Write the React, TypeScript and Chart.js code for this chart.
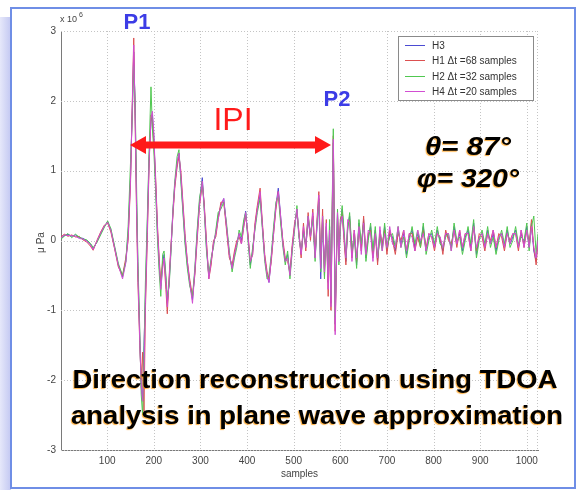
import React, { useEffect, useRef } from "react";
import { Chart, registerables } from "chart.js";
Chart.register(...registerables);

const samples = [
  1, 8, 16, 24, 32, 40, 48, 56, 64, 70,
  78, 86, 94, 101, 108, 116, 124, 133, 140, 145,
  150, 154, 157, 160, 163, 166, 170, 173, 176, 179,
  182, 186, 190, 194, 197, 200, 204, 208, 212, 215,
  219, 222, 226, 229, 233, 237, 241, 245, 250, 254,
  258, 262, 267, 272, 277, 283, 288, 293, 298, 304,
  308, 313, 318, 323, 328, 333, 338, 344, 350, 356,
  362, 368, 373, 378, 383, 388, 393, 397, 402, 407,
  412, 417, 422, 428, 433, 438, 443, 447, 452, 457,
  462, 467, 472, 477, 482, 487, 492, 497, 502, 507,
  511, 516, 521, 526, 531, 536, 541, 546, 550, 554,
  558, 562, 566, 570, 574, 577, 580, 583, 585, 587,
  589, 591, 594, 597, 600, 604, 608, 612, 616, 620,
  625, 630, 635, 640, 645, 650, 655, 660, 665, 670,
  675, 680, 685, 690, 695, 700, 706, 712, 718, 724,
  730, 736, 742, 748, 754, 760, 766, 772, 778, 784,
  790, 796, 802, 808, 814, 820, 826, 832, 838, 844,
  850, 856, 862, 868, 874, 880, 886, 892, 898, 904,
  910, 916, 922, 928, 934, 940, 946, 952, 958, 964,
  970, 976, 982, 988, 994, 1000, 1005, 1010, 1015, 1020,
  1024,
];

const h3 = [
  0.03, 0.07, 0.09, 0.06, 0.08, 0.04, 0.03, 0.0, -0.05, -0.12,
  -0.02, 0.1, 0.2, 0.27, 0.15, -0.1, -0.35, -0.52, -0.3, 0.1,
  0.9, 1.9, 2.7, 1.9, 0.6, -0.4, -1.4, -2.1, -2.3, -1.5,
  -0.8, 0.2, 1.2, 1.7, 1.8, 1.5, 0.8, 0.1, -0.4, -0.65,
  -0.35, -0.2, -0.55, -0.9, -0.6, -0.1, 0.4, 0.8, 1.1, 1.25,
  0.9, 0.5, 0.0, -0.35, -0.6, -0.85, -0.45, 0.1, 0.55, 0.9,
  0.5, -0.1, -0.5, -0.3, -0.05, 0.1, 0.35, 0.5, 0.6, 0.2,
  -0.2, -0.4, -0.2, -0.05, 0.1, 0.0, 0.25, 0.42, 0.05, -0.35,
  -0.15, 0.2, 0.45, 0.65, 0.2, -0.25, -0.5, -0.6, -0.25, 0.15,
  0.5, 0.75, 0.35, -0.05, -0.3, -0.2, -0.5, -0.1, 0.2, 0.45,
  0.1, -0.2, 0.15, -0.1, 0.3, 0.05, 0.35, -0.25, 0.2, 0.6,
  -0.55, 0.3, -0.4, 0.2, -0.6, 0.2, -0.9, 0.5, 1.4, 0.2,
  -1.2, -0.5, 0.4, -0.3, 0.2, 0.45, 0.1, -0.3, 0.2, 0.35,
  -0.2, 0.1, -0.35, 0.25, -0.1, 0.3, -0.25, 0.05, 0.2, -0.2,
  0.15, -0.3, 0.1, -0.1, 0.2, -0.15, 0.1, 0.05, -0.15, 0.15,
  -0.05, 0.1, -0.2, 0.05, 0.15, -0.1, 0.1, -0.05, 0.2, -0.15,
  0.05, 0.1, -0.1, 0.15, 0.0, -0.15, 0.1, 0.05, -0.1, 0.2,
  -0.05, 0.1, -0.15, 0.05, 0.15, -0.1, 0.25, -0.2, 0.05, 0.1,
  -0.1, 0.15, -0.05, 0.1, -0.15, 0.05, 0.1, -0.1, 0.15, -0.05,
  0.05, 0.15, -0.1, 0.1, -0.05, 0.2, -0.1, 0.25, -0.15, -0.3,
  0.05,
];

const h1 = [
  0.05, 0.09, 0.06, 0.08, 0.05, 0.06, 0.01, -0.02, -0.08, -0.14,
  0.0, 0.12, 0.22, 0.25, 0.12, -0.12, -0.38, -0.5, -0.25, 0.0,
  0.8, 2.0, 2.9, 1.7, 0.4, -0.6, -1.5, -2.0, -1.6, -2.45,
  -1.0, 0.0, 1.1, 1.8, 1.7, 1.4, 0.9, 0.2, -0.3, -0.6,
  -0.3, -0.3, -0.7, -1.05, -0.5, -0.05, 0.35, 0.75, 1.05, 1.2,
  1.0, 0.6, 0.1, -0.3, -0.55, -0.8, -0.5, 0.0, 0.5, 0.8,
  0.55, 0.0, -0.55, -0.35, 0.0, 0.05, 0.3, 0.55, 0.55, 0.15,
  -0.25, -0.35, -0.15, 0.0, 0.05, -0.05, 0.2, 0.35, 0.1, -0.3,
  -0.2, 0.25, 0.5, 0.75, 0.25, -0.2, -0.45, -0.55, -0.3, 0.1,
  0.45, 0.7, 0.3, 0.0, -0.25, -0.3, -0.45, -0.05, 0.25, 0.4,
  0.15, -0.25, 0.25, -0.15, 0.4, 0.0, 0.45, -0.2, 0.3, 0.7,
  -0.3, 0.45, -0.5, 0.3, -0.8, 0.1, -1.0, 0.6, 1.5, 0.3,
  -1.3, -0.6, 0.35, -0.25, 0.3, 0.4, 0.0, -0.35, 0.25, 0.3,
  -0.25, 0.15, -0.3, 0.2, -0.15, 0.35, -0.2, 0.1, 0.15, -0.25,
  0.1, -0.35, 0.15, -0.05, 0.15, -0.2, 0.15, 0.0, -0.2, 0.1,
  0.0, 0.15, -0.15, 0.1, 0.1, -0.15, 0.05, -0.1, 0.15, -0.1,
  0.1, 0.05, -0.15, 0.1, 0.05, -0.2, 0.15, 0.0, -0.05, 0.15,
  -0.1, 0.15, -0.1, 0.1, 0.1, -0.15, 0.2, -0.15, 0.1, 0.05,
  -0.15, 0.1, 0.0, 0.15, -0.1, 0.1, 0.05, -0.15, 0.1, 0.0,
  0.1, 0.1, -0.15, 0.15, -0.1, 0.15, -0.05, 0.3, -0.1, -0.35,
  0.0,
];

const h2 = [
  0.02, 0.06, 0.1, 0.04, 0.09, 0.05, 0.02, 0.01, -0.04, -0.1,
  -0.03, 0.08, 0.19, 0.28, 0.17, -0.08, -0.33, -0.5, -0.3, 0.2,
  1.1, 1.8, 2.5, 2.0, 0.8, -0.3, -1.3, -2.2, -2.5, -1.6,
  -0.6, 0.3, 1.3, 2.2, 1.6, 1.3, 0.7, 0.0, -0.5, -0.8,
  -0.2, -0.15, -0.5, -0.8, -0.65, -0.15, 0.45, 0.85, 1.2, 1.3,
  0.85, 0.45, -0.05, -0.4, -0.65, -0.8, -0.4, 0.15, 0.6, 0.85,
  0.45, -0.15, -0.5, -0.25, -0.1, 0.15, 0.4, 0.45, 0.55, 0.25,
  -0.15, -0.45, -0.25, -0.1, 0.15, 0.05, 0.3, 0.4, 0.0, -0.4,
  -0.1, 0.15, 0.4, 0.6, 0.15, -0.3, -0.55, -0.5, -0.2, 0.2,
  0.55, 0.65, 0.25, -0.1, -0.35, -0.15, -0.55, -0.15, 0.15, 0.5,
  0.05, -0.15, 0.1, -0.05, 0.35, 0.1, 0.3, -0.3, 0.25, 0.55,
  -0.45, 0.35, -0.55, 0.15, -0.5, 0.3, -0.8, 0.7, 1.6, 0.1,
  -1.1, -0.4, 0.45, -0.35, 0.15, 0.5, 0.15, -0.25, 0.15, 0.4,
  -0.15, 0.05, -0.4, 0.3, -0.05, 0.25, -0.3, 0.0, 0.25, -0.15,
  0.2, -0.25, 0.05, -0.15, 0.25, -0.1, 0.05, 0.1, -0.1, 0.2,
  -0.1, 0.05, -0.25, 0.0, 0.2, -0.05, 0.15, -0.1, 0.25, -0.2,
  0.0, 0.15, -0.05, 0.2, -0.05, -0.1, 0.05, 0.1, -0.15, 0.25,
  0.0, 0.05, -0.2, 0.0, 0.2, -0.05, 0.3, -0.25, 0.0, 0.15,
  -0.05, 0.2, -0.1, 0.05, -0.2, 0.0, 0.15, -0.05, 0.2, -0.1,
  0.0, 0.2, -0.05, 0.05, 0.0, 0.25, -0.15, 0.2, 0.35, -0.2,
  0.1,
];

const h4 = [
  0.04, 0.08, 0.07, 0.07, 0.06, 0.03, 0.02, -0.01, -0.06, -0.13,
  -0.01, 0.11, 0.21, 0.26, 0.14, -0.11, -0.36, -0.55, -0.32, 0.05,
  0.85, 1.95, 2.8, 1.8, 0.5, -0.5, -1.45, -2.05, -2.3, -1.9,
  -0.9, 0.1, 1.15, 1.75, 1.85, 1.55, 0.85, 0.15, -0.35, -0.7,
  -0.4, -0.25, -0.6, -0.95, -0.55, -0.1, 0.4, 0.8, 1.1, 1.25,
  0.95, 0.55, 0.05, -0.3, -0.6, -0.9, -0.45, 0.05, 0.5, 0.85,
  0.5, -0.05, -0.55, -0.3, -0.05, 0.1, 0.3, 0.5, 0.6, 0.2,
  -0.2, -0.4, -0.2, -0.05, 0.1, -0.05, 0.2, 0.4, 0.05, -0.3,
  -0.2, 0.2, 0.45, 0.7, 0.2, -0.25, -0.5, -0.6, -0.25, 0.1,
  0.5, 0.7, 0.35, -0.05, -0.3, -0.25, -0.5, -0.1, 0.2, 0.45,
  0.1, -0.2, 0.2, -0.1, 0.35, 0.05, 0.4, -0.25, 0.25, 0.65,
  -0.4, 0.35, -0.45, 0.25, -0.7, 0.15, -0.95, 0.55, 1.45, 0.25,
  -1.35, -0.55, 0.4, -0.3, 0.25, 0.35, 0.05, -0.25, 0.3, 0.25,
  -0.3, 0.15, -0.25, 0.2, -0.2, 0.25, -0.2, 0.15, 0.1, -0.3,
  0.1, -0.25, 0.2, -0.15, 0.1, -0.1, 0.2, -0.05, -0.1, 0.2,
  -0.1, 0.15, -0.15, 0.1, 0.05, -0.15, 0.15, 0.0, 0.1, -0.15,
  0.1, 0.05, -0.1, 0.1, 0.05, -0.1, 0.1, 0.1, -0.15, 0.15,
  -0.05, 0.15, -0.1, 0.1, 0.1, -0.15, 0.2, -0.1, 0.05, 0.1,
  -0.1, 0.1, -0.05, 0.15, -0.1, 0.05, 0.1, -0.1, 0.1, -0.05,
  0.1, 0.1, -0.1, 0.15, -0.1, 0.15, -0.1, 0.2, -0.1, -0.25,
  0.0,
];

const xTicks = [100, 200, 300, 400, 500, 600, 700, 800, 900, 1000];
const yTicks = [-3, -2, -1, 0, 1, 2, 3];
const seriesLabels = ["H3", "H1 \u0394t =68 samples", "H2 \u0394t =32 samples", "H4 \u0394t =20 samples"];
const seriesColors = ["#4b4bd2", "#dc5050", "#50c850", "#d24ed2"];
const seriesValues = [h3, h1, h2, h4];

const xLabel = "samples";
const yLabel = "\u03bc Pa";
const peak1Label = "P1";
const peak2Label = "P2";
const ipiLabel = "IPI";
const thetaLabel = "\u03b8= 87\u00b0";
const phiLabel = "\u03c6= 320\u00b0";
const captionLines = ["Direction reconstruction using TDOA", "analysis in plane wave approximation"];

const FONT = "Arial, 'Liberation Sans', sans-serif";

const framePlugin = {
  id: "frame",
  beforeDraw(chart: any) {
    const ctx = chart.ctx;
    ctx.save();
    ctx.fillStyle = "#ffffff";
    ctx.fillRect(0, 0, chart.width, chart.height);
    const g = ctx.createLinearGradient(0, 0, 11, 0);
    g.addColorStop(0, "#e6e8fa");
    g.addColorStop(1, "#c3c8f2");
    ctx.fillStyle = g;
    ctx.fillRect(0, 17, 11, chart.height - 17);
    ctx.strokeStyle = "#6f8ee6";
    ctx.lineWidth = 2;
    ctx.strokeRect(11, 8, 564, 480);
    ctx.restore();
  },
  beforeDatasetsDraw(chart: any) {
    const ctx = chart.ctx;
    const a = chart.chartArea;
    const xs = chart.scales.x;
    const ys = chart.scales.y;
    ctx.save();
    ctx.strokeStyle = "#c4c4c4";
    ctx.lineWidth = 1;
    ctx.setLineDash([1, 2]);
    ctx.beginPath();
    xTicks.forEach((v) => {
      const px = Math.round(xs.getPixelForValue(v)) + 0.5;
      ctx.moveTo(px, a.top);
      ctx.lineTo(px, a.bottom);
    });
    ctx.moveTo(a.right - 0.5, a.top);
    ctx.lineTo(a.right - 0.5, a.bottom);
    yTicks.forEach((v) => {
      const py = Math.round(ys.getPixelForValue(v)) + 0.5;
      ctx.moveTo(a.left, py);
      ctx.lineTo(a.right, py);
    });
    ctx.stroke();
    ctx.restore();
  },
};

function fittedGlowText(ctx: any, text: string, cx: number, y: number, targetW: number) {
  ctx.save();
  const w = ctx.measureText(text).width;
  ctx.translate(cx, y);
  ctx.scale(targetW / w, 1);
  ctx.textAlign = "center";
  ctx.shadowColor = "rgba(255,150,0,0.75)";
  ctx.shadowBlur = 1;
  ctx.shadowOffsetX = -1;
  ctx.shadowOffsetY = 0.8;
  ctx.fillText(text, 0, 0);
  ctx.restore();
}

const annotationPlugin = {
  id: "annot",
  afterDraw(chart: any) {
    const ctx = chart.ctx;
    const a = chart.chartArea;
    ctx.save();
    ctx.fillStyle = "#444";
    ctx.textBaseline = "alphabetic";
    ctx.textAlign = "left";
    ctx.font = "9px " + FONT;
    ctx.fillText("x 10", 60, 22);
    ctx.font = "7px " + FONT;
    ctx.fillText("6", 79, 17);
    ctx.font = "10px " + FONT;
    ctx.textAlign = "center";
    ctx.fillText(xLabel, (a.left + a.right) / 2, 477);
    ctx.save();
    ctx.translate(41, (a.top + a.bottom) / 2 + 2);
    ctx.rotate(-Math.PI / 2);
    ctx.textBaseline = "middle";
    ctx.fillText(yLabel, 0, 0);
    ctx.restore();

    // legend box
    const lx = 398, ly = 36, lw = 135, lh = 64;
    ctx.fillStyle = "#ffffff";
    ctx.fillRect(lx, ly, lw, lh);
    ctx.strokeStyle = "#8a8a8a";
    ctx.lineWidth = 1;
    ctx.setLineDash([]);
    ctx.strokeRect(lx + 0.5, ly + 0.5, lw, lh);
    ctx.font = "10px " + FONT;
    ctx.textAlign = "left";
    ctx.textBaseline = "middle";
    const rows = [45, 60, 76, 91];
    seriesLabels.forEach((lab, i) => {
      ctx.strokeStyle = seriesColors[i];
      ctx.lineWidth = 1;
      ctx.beginPath();
      ctx.moveTo(405, rows[i] + 0.5);
      ctx.lineTo(425, rows[i] + 0.5);
      ctx.stroke();
      ctx.fillStyle = "#333";
      ctx.fillText(lab, 432, rows[i] + 1);
    });

    // P1 / P2
    ctx.textBaseline = "alphabetic";
    ctx.textAlign = "center";
    ctx.fillStyle = "#3c3ce6";
    ctx.font = "bold 22px " + FONT;
    ctx.fillText(peak1Label, 137, 29);
    ctx.fillText(peak2Label, 337, 106);

    // IPI
    ctx.fillStyle = "#ff1a1a";
    ctx.font = "32px " + FONT;
    ctx.fillText(ipiLabel, 233, 130);

    // double arrow
    const ay = 145, x1 = 130, x2 = 331, head = 16, hh = 9, th = 3.5;
    ctx.beginPath();
    ctx.moveTo(x1, ay);
    ctx.lineTo(x1 + head, ay - hh);
    ctx.lineTo(x1 + head, ay - th);
    ctx.lineTo(x2 - head, ay - th);
    ctx.lineTo(x2 - head, ay - hh);
    ctx.lineTo(x2, ay);
    ctx.lineTo(x2 - head, ay + hh);
    ctx.lineTo(x2 - head, ay + th);
    ctx.lineTo(x1 + head, ay + th);
    ctx.lineTo(x1 + head, ay + hh);
    ctx.closePath();
    ctx.fill();

    // angles
    ctx.fillStyle = "#000";
    ctx.font = "italic bold 25px " + FONT;
    fittedGlowText(ctx, thetaLabel, 468, 155, 86);
    fittedGlowText(ctx, phiLabel, 468, 187, 102);

    // caption
    ctx.font = "bold 25px " + FONT;
    fittedGlowText(ctx, captionLines[0], 315, 388, 485);
    fittedGlowText(ctx, captionLines[1], 317, 424, 492);
    ctx.restore();
  },
};

export default function App() {
  const ref = useRef<HTMLCanvasElement>(null);
  useEffect(() => {
    document.body.style.margin = "0";
    const canvas = ref.current;
    if (!canvas) return;
    const datasets = seriesValues.map((vals, i) => ({
      label: seriesLabels[i],
      data: samples.map((x, j) => ({ x, y: vals[j] })),
      borderColor: seriesColors[i],
      borderWidth: 1,
      pointRadius: 0,
      tension: 0,
      fill: false,
      order: 4 - i,
    }));
    const chart = new Chart(canvas, {
      type: "line",
      data: { datasets },
      options: {
        responsive: false,
        animation: false,
        devicePixelRatio: 1,
        layout: { padding: { left: 0, right: 42, top: 31, bottom: 0 } },
        plugins: { legend: { display: false }, tooltip: { enabled: false } },
        scales: {
          x: {
            type: "linear",
            min: 1,
            max: 1024,
            afterBuildTicks: (s: any) => {
              s.ticks = xTicks.map((v) => ({ value: v }));
            },
            afterFit: (s: any) => {
              s.height = 40;
            },
            grid: { drawOnChartArea: false, drawTicks: false },
            border: { display: true, color: "#7a7a7a", width: 1 },
            ticks: {
              color: "#444",
              padding: 5,
              maxRotation: 0,
              callback: (v: any) => String(v),
              font: { family: FONT, size: 10 },
            },
          },
          y: {
            type: "linear",
            min: -3,
            max: 3,
            afterBuildTicks: (s: any) => {
              s.ticks = yTicks.map((v) => ({ value: v }));
            },
            afterFit: (s: any) => {
              s.width = 61;
            },
            grid: { drawOnChartArea: false, drawTicks: false },
            border: { display: true, color: "#7a7a7a", width: 1 },
            ticks: {
              color: "#444",
              padding: 5,
              callback: (v: any) => String(v),
              font: { family: FONT, size: 10 },
            },
          },
        },
      },
      plugins: [framePlugin, annotationPlugin],
    } as any);
    return () => chart.destroy();
  }, []);
  return <canvas ref={ref} width={580} height={490} style={{ display: "block" }} />;
}
